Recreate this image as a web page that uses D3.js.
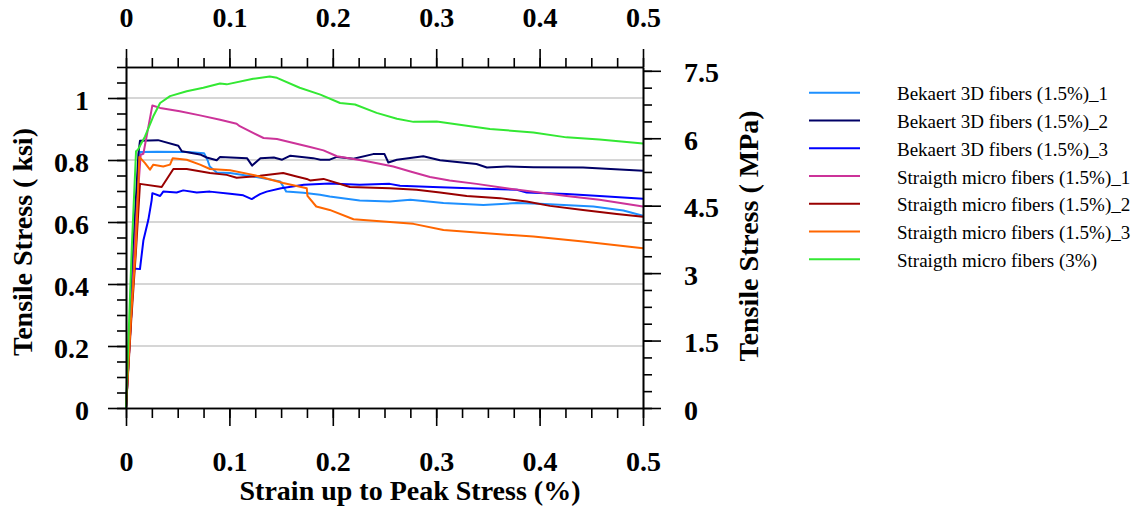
<!DOCTYPE html>
<html>
<head>
<meta charset="utf-8">
<script src="https://cdn.jsdelivr.net/npm/d3@7"></script>
<style>
  html, body { margin: 0; padding: 0; background: #fff; }
  svg { display: block; }
  .tick text { font-family: "Liberation Serif", "Times New Roman", serif; font-weight: bold; font-size: 28px; fill: #000; }
  .axis-title { font-family: "Liberation Serif", "Times New Roman", serif; font-weight: bold; font-size: 28px; fill: #000; }
  .legend text { font-family: "Liberation Serif", "Times New Roman", serif; font-size: 19px; fill: #000; }
</style>
</head>
<body>
<svg id="chart" width="1141" height="514"></svg>
<script>
// Series: [strain (%), tensile stress (ksi)]
const seriesNames = [
  "Bekaert 3D fibers (1.5%)_1",
  "Bekaert 3D fibers (1.5%)_2",
  "Bekaert 3D fibers (1.5%)_3",
  "Straigth micro fibers (1.5%)_1",
  "Straigth micro fibers (1.5%)_2",
  "Straigth micro fibers (1.5%)_3",
  "Straigth micro fibers (3%)"
];
const seriesColors = ["#1E90FF", "#000066", "#0000FF", "#CC3399", "#990000", "#FF6600", "#33E833"];

const bekaert1 = [
  [0, 0], [0.004, 0.25], [0.008, 0.55], [0.0125, 0.80], [0.0135, 0.826], [0.03, 0.827], [0.0597, 0.826],
  [0.0755, 0.822], [0.0787, 0.801], [0.081, 0.779], [0.0877, 0.760], [0.1006, 0.758], [0.126, 0.745],
  [0.149, 0.731], [0.152, 0.715], [0.155, 0.698], [0.1715, 0.694], [0.1876, 0.688], [0.197, 0.682],
  [0.226, 0.669], [0.255, 0.666], [0.275, 0.672], [0.307, 0.661], [0.3456, 0.655], [0.378, 0.661],
  [0.400, 0.659], [0.452, 0.650], [0.481, 0.637], [0.5, 0.620]
];
const bekaert2 = [
  [0, 0], [0.004, 0.28], [0.008, 0.58], [0.012, 0.82], [0.0135, 0.862], [0.031, 0.864], [0.0506, 0.846],
  [0.054, 0.828], [0.0716, 0.818], [0.078, 0.808], [0.0877, 0.799], [0.091, 0.810], [0.117, 0.806],
  [0.122, 0.782], [0.130, 0.806], [0.143, 0.808], [0.151, 0.801], [0.159, 0.814], [0.181, 0.806],
  [0.188, 0.801], [0.197, 0.801], [0.204, 0.810], [0.220, 0.804], [0.239, 0.819], [0.250, 0.819],
  [0.2537, 0.792], [0.262, 0.801], [0.2875, 0.812], [0.3037, 0.799], [0.339, 0.787], [0.349, 0.776],
  [0.368, 0.779], [0.394, 0.777], [0.442, 0.776], [0.5, 0.765]
];
const bekaert3 = [
  [0, 0], [0.004, 0.24], [0.0077, 0.450], [0.0135, 0.448], [0.0168, 0.54], [0.0216, 0.607], [0.0248, 0.67],
  [0.0255, 0.693], [0.033, 0.684], [0.036, 0.698], [0.049, 0.695], [0.0554, 0.702], [0.0684, 0.695],
  [0.0812, 0.698], [0.1006, 0.691], [0.1134, 0.686], [0.1216, 0.674], [0.1296, 0.690], [0.136, 0.698],
  [0.150, 0.709], [0.172, 0.720], [0.197, 0.724], [0.226, 0.720], [0.255, 0.723], [0.265, 0.717],
  [0.297, 0.713], [0.3456, 0.707], [0.378, 0.704], [0.3875, 0.695], [0.426, 0.690], [0.458, 0.684],
  [0.5, 0.675]
];
const straight1 = [
  [0, 0], [0.005, 0.30], [0.010, 0.62], [0.0142, 0.817], [0.0168, 0.82], [0.0255, 0.976], [0.033, 0.968],
  [0.052, 0.957], [0.0716, 0.944], [0.091, 0.930], [0.107, 0.917], [0.110, 0.909], [0.133, 0.871],
  [0.146, 0.868], [0.168, 0.850], [0.178, 0.842], [0.191, 0.831], [0.204, 0.812], [0.233, 0.796],
  [0.2585, 0.779], [0.275, 0.763], [0.294, 0.745], [0.313, 0.734], [0.339, 0.723], [0.368, 0.709],
  [0.400, 0.695], [0.426, 0.684], [0.458, 0.672], [0.5, 0.650]
];
const straight2 = [
  [0, 0], [0.005, 0.28], [0.0095, 0.50], [0.0135, 0.723], [0.0345, 0.713], [0.0458, 0.771], [0.0587, 0.771],
  [0.0812, 0.758], [0.0974, 0.752], [0.107, 0.743], [0.1296, 0.749], [0.152, 0.758], [0.165, 0.747],
  [0.1748, 0.739], [0.178, 0.734], [0.191, 0.739], [0.2166, 0.713], [0.255, 0.709], [0.281, 0.704],
  [0.3037, 0.695], [0.3295, 0.684], [0.3617, 0.677], [0.3875, 0.666], [0.410, 0.652], [0.442, 0.639],
  [0.4746, 0.626], [0.5, 0.617]
];
const straight3 = [
  [0, 0], [0.005, 0.30], [0.0095, 0.52], [0.0129, 0.810], [0.0184, 0.790], [0.0232, 0.769], [0.0264, 0.785],
  [0.036, 0.779], [0.0426, 0.785], [0.0452, 0.806], [0.0587, 0.801], [0.0716, 0.785], [0.0812, 0.771],
  [0.1006, 0.767], [0.123, 0.752], [0.152, 0.726], [0.1748, 0.709], [0.1755, 0.684],
  [0.184, 0.650], [0.197, 0.639], [0.220, 0.609], [0.2585, 0.599], [0.278, 0.594],
  [0.307, 0.574], [0.339, 0.566], [0.394, 0.553], [0.442, 0.537], [0.5, 0.515]
];
const straight3pct = [
  [0, 0], [0.003, 0.28], [0.0055, 0.51], [0.0097, 0.828], [0.0115, 0.833], [0.0184, 0.876], [0.0264, 0.941],
  [0.0330, 0.984], [0.0426, 1.006], [0.0587, 1.022], [0.0748, 1.033], [0.0909, 1.047], [0.0974, 1.044],
  [0.123, 1.062], [0.139, 1.069], [0.146, 1.065], [0.168, 1.033], [0.188, 1.011], [0.207, 0.984],
  [0.2215, 0.979], [0.2424, 0.952], [0.262, 0.933], [0.278, 0.923], [0.3005, 0.924], [0.333, 0.909],
  [0.352, 0.900], [0.394, 0.889], [0.426, 0.873], [0.458, 0.866], [0.5, 0.853]
];
const seriesData = [bekaert1, bekaert2, bekaert3, straight1, straight2, straight3, straight3pct];

// Axis tick values
const strainTicks = [0, 0.1, 0.2, 0.3, 0.4, 0.5];
const ksiTicks = [0, 0.2, 0.4, 0.6, 0.8, 1];
const mpaTicks = [0, 1.5, 3, 4.5, 6, 7.5];
const KSI_TO_MPA = 6.895;

const svg = d3.select("#chart");
const plot = { left: 126, right: 643, top: 67, bottom: 408 };

const x = d3.scaleLinear().domain([0, 0.5]).range([plot.left, plot.right]);
const yKsi = d3.scaleLinear().domain([0, 1.1]).range([plot.bottom, plot.top]);
const yMpa = d3.scaleLinear().domain([0, 1.1 * KSI_TO_MPA]).range([plot.bottom, plot.top]);

const fmt = d => d3.format("~g")(d);

// Horizontal gridlines at major ksi ticks
svg.append("g")
  .selectAll("line")
  .data(ksiTicks.filter(d => d > 0))
  .join("line")
  .attr("x1", plot.left).attr("x2", plot.right)
  .attr("y1", d => yKsi(d)).attr("y2", d => yKsi(d))
  .attr("stroke", "#c8c8c8").attr("stroke-width", 1.6);

// Curves
const line = d3.line().x(d => x(d[0])).y(d => yKsi(d[1]));
svg.append("g")
  .selectAll("path")
  .data(seriesData)
  .join("path")
  .attr("d", line)
  .attr("fill", "none")
  .attr("stroke", (d, i) => seriesColors[i])
  .attr("stroke-width", 2)
  .attr("stroke-linejoin", "round");

function styleAxis(g) {
  g.select(".domain").attr("stroke", "#000").attr("stroke-width", 1.6);
  g.selectAll(".tick line").attr("stroke", "#000").attr("stroke-width", 1.6);
}

const xMinor = d3.range(0, 0.5001, 0.025);
const ksiMinor = d3.range(0, 1.1001, 0.05);
const mpaMinor = d3.range(0, 7.58, 0.375);

// Bottom axis
svg.append("g").attr("transform", `translate(0,${plot.bottom})`)
  .call(d3.axisBottom(x).tickValues(xMinor).tickSize(10).tickSizeOuter(0).tickFormat(""))
  .call(styleAxis);
svg.append("g").attr("transform", `translate(0,${plot.bottom})`)
  .call(d3.axisBottom(x).tickValues(strainTicks).tickSize(18).tickSizeOuter(0).tickFormat(fmt))
  .call(styleAxis)
  .call(g => g.selectAll(".tick text").attr("y", 63).attr("dy", 0));

// Top axis
svg.append("g").attr("transform", `translate(0,${plot.top})`)
  .call(d3.axisTop(x).tickValues(xMinor).tickSize(9).tickSizeOuter(0).tickFormat(""))
  .call(styleAxis);
svg.append("g").attr("transform", `translate(0,${plot.top})`)
  .call(d3.axisTop(x).tickValues(strainTicks).tickSize(18).tickSizeOuter(0).tickFormat(fmt))
  .call(styleAxis)
  .call(g => g.selectAll(".tick text").attr("y", -40).attr("dy", 0));

// Left axis (ksi)
svg.append("g").attr("transform", `translate(${plot.left},0)`)
  .call(d3.axisLeft(yKsi).tickValues(ksiMinor).tickSize(9).tickSizeOuter(0).tickFormat(""))
  .call(styleAxis);
svg.append("g").attr("transform", `translate(${plot.left},0)`)
  .call(d3.axisLeft(yKsi).tickValues(ksiTicks).tickSize(18).tickSizeOuter(0).tickFormat(fmt))
  .call(styleAxis)
  .call(g => g.selectAll(".tick text").attr("x", -37).attr("dy", 11));

// Right axis (MPa)
svg.append("g").attr("transform", `translate(${plot.right},0)`)
  .call(d3.axisRight(yMpa).tickValues(mpaMinor).tickSize(9).tickSizeOuter(0).tickFormat(""))
  .call(styleAxis);
svg.append("g").attr("transform", `translate(${plot.right},0)`)
  .call(d3.axisRight(yMpa).tickValues(mpaTicks).tickSize(18).tickSizeOuter(0).tickFormat(fmt))
  .call(styleAxis)
  .call(g => g.selectAll(".tick text").attr("x", 41).attr("dy", 11));

// Axis titles
svg.append("text").attr("class", "axis-title")
  .attr("x", 410).attr("y", 500)
  .attr("text-anchor", "middle")
  .text("Strain up to Peak Stress (%)");

svg.append("text").attr("class", "axis-title")
  .attr("transform", `translate(32,${242}) rotate(-90)`)
  .attr("text-anchor", "middle")
  .text("Tensile Stress ( ksi)");

svg.append("text").attr("class", "axis-title")
  .attr("transform", `translate(758,${236}) rotate(-90)`)
  .attr("text-anchor", "middle")
  .text("Tensile Stress ( MPa)");

// Legend
const legend = svg.append("g").attr("class", "legend");
const rowY = d3.scaleLinear().domain([0, 6]).range([92.7, 259.3]);
const rows = legend.selectAll("g").data(seriesNames).join("g")
  .attr("transform", (d, i) => `translate(0,${rowY(i)})`);
rows.append("line")
  .attr("x1", 809).attr("x2", 860)
  .attr("stroke", (d, i) => seriesColors[i]).attr("stroke-width", 2);
rows.append("text")
  .attr("x", 897).attr("y", 7.5)
  .text(d => d);
</script>
</body>
</html>
